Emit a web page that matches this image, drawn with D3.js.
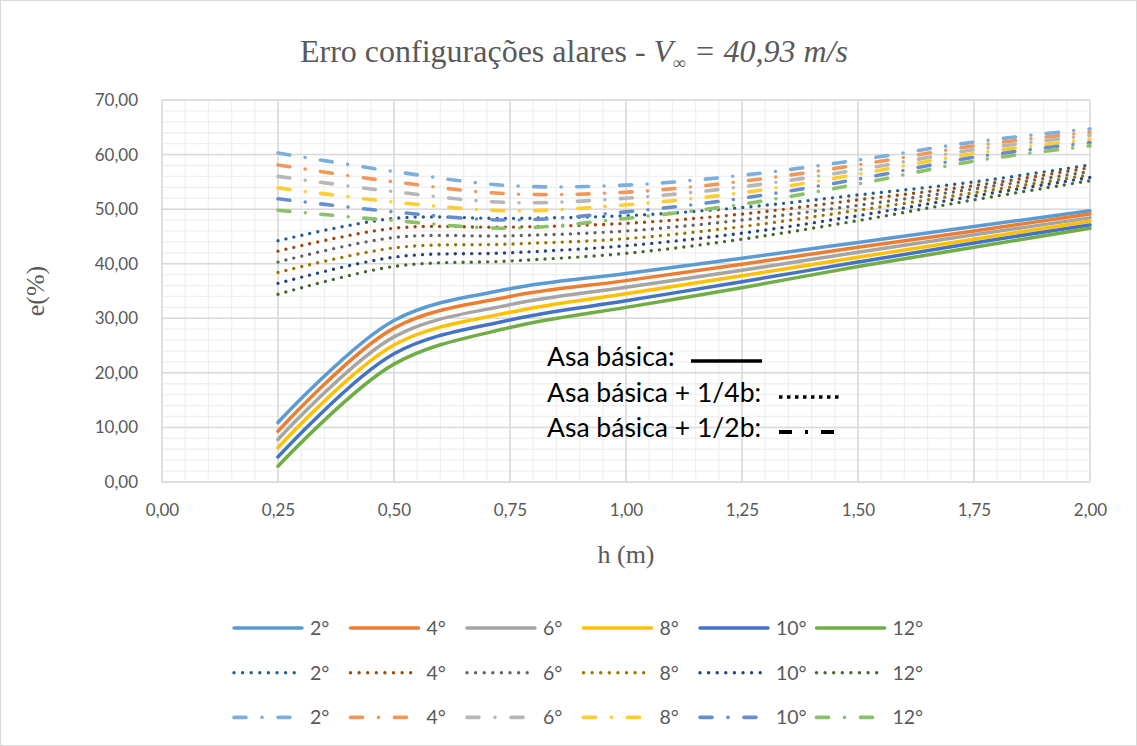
<!DOCTYPE html>
<html>
<head>
<meta charset="utf-8">
<script src="https://cdn.jsdelivr.net/npm/d3@7"></script>
<style>
  body { margin: 0; background: #fff; }
  svg { display: block; }
</style>
</head>
<body>
<script>
'use strict';

// h (m) positions of the points
const hValues = [0.25, 0.50, 0.75, 1.00, 1.25, 1.50, 1.75, 2.00];
const angles = ["2°", "4°", "6°", "8°", "10°", "12°"];

// e(%) per angle - asa basica (solid)
const basica = [
    [10.9, 29.6, 35.4, 38.2, 41.0, 43.9, 46.8, 49.7],
    [9.3, 28.2, 34.0, 36.9, 39.9, 43.0, 46.0, 49.1],
    [7.8, 26.6, 32.5, 35.7, 38.8, 42.1, 45.3, 48.4],
    [6.3, 25.1, 31.1, 34.5, 37.8, 41.2, 44.5, 47.8],
    [4.6, 23.5, 29.7, 33.2, 36.7, 40.3, 43.8, 47.1],
    [2.9, 21.6, 28.3, 32.0, 35.6, 39.5, 43.0, 46.5]
];
// asa basica + 1/4b (dotted)
const quarto = [
    [44.2, 48.3, 48.3, 48.8, 50.3, 52.6, 55.0, 58.1],
    [42.3, 46.5, 46.7, 47.4, 49.1, 51.7, 54.3, 57.6],
    [40.3, 44.8, 45.1, 46.0, 48.0, 50.7, 53.7, 56.9],
    [38.4, 42.9, 43.6, 44.6, 46.8, 49.8, 53.0, 56.3],
    [36.4, 41.2, 42.0, 43.3, 45.6, 48.8, 52.4, 55.8],
    [34.4, 39.5, 40.5, 41.9, 44.5, 47.9, 51.7, 55.2]
];
// asa basica + 1/2b (dash dot)
const meio = [
    [60.3, 56.9, 54.3, 54.4, 56.2, 59.0, 62.3, 64.7],
    [58.1, 55.0, 52.8, 53.1, 55.1, 58.1, 61.6, 64.1],
    [56.0, 53.2, 51.2, 52.0, 54.1, 57.2, 60.9, 63.5],
    [53.9, 51.3, 49.7, 50.8, 53.0, 56.4, 60.2, 62.8],
    [51.9, 49.5, 48.0, 49.5, 52.0, 55.5, 59.5, 62.2],
    [49.8, 47.9, 46.5, 48.3, 50.9, 54.6, 58.8, 61.6]
];

const colorsBasica = ["#5B9BD5", "#ED7D31", "#A5A5A5", "#FFC000", "#4472C4", "#70AD47"];
const colorsQuarto = ["#255E91", "#9E480E", "#636363", "#997300", "#264478", "#43682B"];
const colorsMeio = ["#7CAFDD", "#F1975A", "#B7B7B7", "#FFCD33", "#698ED0", "#8CC168"];

const yTicks = [0, 10, 20, 30, 40, 50, 60, 70];
const xTicks = [0, 0.25, 0.5, 0.75, 1.0, 1.25, 1.5, 1.75, 2.0];

const width = 1137, height = 746;
const serif = '"Liberation Serif", "Times New Roman", serif';
const sans = 'Lato, "Open Sans", sans-serif';
const fmt = d => d3.format(".2f")(d).replace(".", ",");

const svg = d3.select('body').append('svg')
    .attr('width', width)
    .attr('height', height);

// chart frame
svg.append('rect')
    .attr('x', 0.5).attr('y', 0.5)
    .attr('width', width - 1).attr('height', height - 1)
    .attr('fill', '#fff')
    .attr('stroke', '#d9d9d9');

const x = d3.scaleLinear().domain([0, 2]).range([162, 1090]);
const y = d3.scaleLinear().domain([0, 70]).range([482, 100]);

// minor gridlines
const grid = svg.append('g');
grid.selectAll('.vminor')
    .data(d3.range(0, 2.0001, 0.05))
    .enter().append('line')
    .attr('x1', d => x(d)).attr('x2', d => x(d))
    .attr('y1', y(0)).attr('y2', y(70))
    .attr('stroke', '#f0f0f0').attr('stroke-width', 1.3);
grid.selectAll('.hminor')
    .data(d3.range(0, 70.001, 2))
    .enter().append('line')
    .attr('x1', x(0)).attr('x2', x(2))
    .attr('y1', d => y(d)).attr('y2', d => y(d))
    .attr('stroke', '#f0f0f0').attr('stroke-width', 1.3);

// major gridlines
grid.selectAll('.vmajor')
    .data(xTicks)
    .enter().append('line')
    .attr('x1', d => x(d)).attr('x2', d => x(d))
    .attr('y1', y(0)).attr('y2', y(70))
    .attr('stroke', '#d9d9d9').attr('stroke-width', 1.5);
grid.selectAll('.hmajor')
    .data(yTicks)
    .enter().append('line')
    .attr('x1', x(0)).attr('x2', x(2))
    .attr('y1', d => y(d)).attr('y2', d => y(d))
    .attr('stroke', '#d9d9d9').attr('stroke-width', 1.5);

// axes (labels only, Excel-like)
const yAxis = svg.append('g')
    .attr('transform', `translate(${x(0)},0)`)
    .call(d3.axisLeft(y).tickValues(yTicks).tickFormat(fmt).tickSize(0).tickPadding(24));
const xAxis = svg.append('g')
    .attr('transform', `translate(0,${y(0)})`)
    .call(d3.axisBottom(x).tickValues(xTicks).tickFormat(fmt).tickSize(0).tickPadding(22));
[yAxis, xAxis].forEach(a => {
    a.select('.domain').remove();
    a.selectAll('text')
        .attr('font-family', sans)
        .attr('font-size', 17)
        .attr('fill', '#595959');
});

// lines
const line = d3.line()
    .x((d, i) => x(hValues[i]))
    .y(d => y(d))
    .curve(d3.curveCatmullRom.alpha(0.5));

const styles = {
    solid: { dash: null, width: 3.5, cap: 'round' },
    dot: { dash: '0,8.2', width: 3.4, cap: 'round' },
    dashdot: { dash: '12,15.5,0,15.5', width: 3.6, cap: 'round' }
};

function drawGroup(series, colors, style) {
    svg.append('g').selectAll('path')
        .data(series)
        .enter().append('path')
        .attr('d', d => line(d))
        .attr('fill', 'none')
        .attr('stroke', (d, i) => colors[i])
        .attr('stroke-width', style.width)
        .attr('stroke-linecap', style.cap)
        .attr('stroke-linejoin', 'round')
        .attr('stroke-dasharray', style.dash);
}
drawGroup(basica, colorsBasica, styles.solid);
drawGroup(quarto, colorsQuarto, styles.dot);
drawGroup(meio, colorsMeio, styles.dashdot);

// title
const title = svg.append('text')
    .attr('x', 574).attr('y', 62)
    .attr('text-anchor', 'middle')
    .attr('font-family', serif)
    .attr('font-size', 32)
    .attr('fill', '#595959');
title.append('tspan').attr('font-family', serif).text('Erro configurações alares - ');
title.append('tspan').attr('font-family', serif).attr('font-style', 'italic').text('V');
title.append('tspan').attr('font-family', serif).attr('dy', 7).attr('font-size', 18).attr('font-style', 'italic').text('∞');
title.append('tspan').attr('font-family', serif).attr('dy', -7).attr('font-style', 'italic').text(' = 40,93 m/s');

// axis titles
svg.append('text')
    .attr('x', 626).attr('y', 563)
    .attr('text-anchor', 'middle')
    .attr('font-family', serif)
    .attr('font-size', 26)
    .attr('fill', '#595959')
    .text('h (m)');
svg.append('text')
    .attr('transform', 'translate(44, 291) rotate(-90)')
    .attr('text-anchor', 'middle')
    .attr('font-family', serif)
    .attr('font-size', 26)
    .attr('fill', '#595959')
    .text('e(%)');

// in-plot annotation
const notes = [
    { label: 'Asa básica:', x1: 691, x2: 762 },
    { label: 'Asa básica + 1/4b:', x1: 779, x2: 843 },
    { label: 'Asa básica + 1/2b:', x1: 779, x2: 836 }
];
const noteY = [366, 402, 437];
notes.forEach((n, i) => {
    svg.append('text')
        .attr('x', 547).attr('y', noteY[i])
        .attr('font-family', sans)
        .attr('font-size', 26.5)
        .attr('fill', '#000')
        .text(n.label);
    const sample = svg.append('line')
        .attr('x1', n.x1).attr('x2', n.x2)
        .attr('y1', noteY[i] - 5).attr('y2', noteY[i] - 5)
        .attr('stroke', '#000');
    if (i === 0) {
        sample.attr('stroke-width', 3.5);
    } else if (i === 1) {
        sample.attr('stroke-width', 3.5).attr('stroke-dasharray', '3.5,4.5');
    } else {
        sample.attr('stroke-width', 4).attr('stroke-dasharray', '13,13,3,13');
    }
});

// legend
const legendRows = [
    { colors: colorsBasica, style: styles.solid, dash: null },
    { colors: colorsQuarto, style: styles.dot, dash: '0,8.6' },
    { colors: colorsMeio, style: styles.dashdot, dash: '12,16,0,16' }
];
const legend = svg.append('g');
legendRows.forEach((row, r) => {
    const ly = 628 + r * 44.7;
    angles.forEach((a, i) => {
        const lx = 234 + i * 116.5;
        legend.append('line')
            .attr('x1', lx).attr('x2', lx + 68)
            .attr('y1', ly).attr('y2', ly)
            .attr('stroke', row.colors[i])
            .attr('stroke-width', row.style.width)
            .attr('stroke-linecap', row.style.cap)
            .attr('stroke-dasharray', row.dash);
        legend.append('text')
            .attr('x', lx + 76).attr('y', ly + 7)
            .attr('font-family', sans)
            .attr('font-size', 19.5)
            .attr('fill', '#595959')
            .text(a);
    });
});
</script>
</body>
</html>
